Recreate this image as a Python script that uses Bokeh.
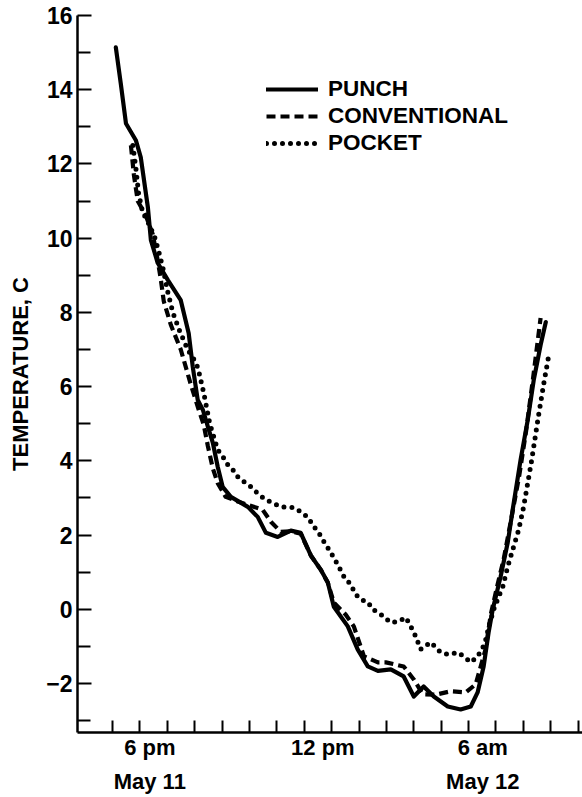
from bokeh.plotting import figure
from bokeh.models import FixedTicker, Legend, LegendItem, Range1d
from bokeh.embed import file_html
from bokeh.resources import INLINE

# time in hours after noon, May 11 (18 = 6 pm, 24 = midnight, 30 = 6 am May 12)
punch_h = [17.12, 17.30, 17.49, 17.85, 18.03, 18.29, 18.40, 18.65, 19.02, 19.49,
           19.78, 19.93, 20.11, 20.30, 20.48, 20.66, 20.84, 21.02, 21.32, 21.94,
           22.30, 22.60, 23.03, 23.51, 23.87, 24.24, 24.60, 24.86, 25.08, 25.59,
           25.95, 26.32, 26.69, 27.16, 27.63, 28.00, 28.36, 28.73, 29.24, 29.71,
           30.08, 30.33, 30.55, 30.73, 30.88, 31.17, 31.43, 31.61, 31.90, 32.16,
           32.38, 32.63, 32.82]
punch_t = [15.14, 14.17, 13.09, 12.64, 12.18, 10.83, 9.95, 9.33, 8.87, 8.33,
           7.44, 6.53, 5.64, 5.37, 4.92, 4.49, 3.84, 3.30, 3.03, 2.76,
           2.49, 2.06, 1.95, 2.12, 2.06, 1.45, 1.07, 0.72, 0.07, -0.46,
           -1.08, -1.54, -1.66, -1.62, -1.81, -2.35, -2.08, -2.35, -2.62, -2.70,
           -2.62, -2.24, -1.54, -0.63, -0.01, 0.88, 1.80, 2.68, 4.03, 5.10,
           6.18, 7.12, 7.74]

conv_h = [17.67, 17.78, 17.92, 18.22, 18.47, 18.65, 18.76, 18.87, 19.13, 19.49,
          19.86, 20.15, 20.33, 20.48, 20.66, 20.84, 21.13, 21.60, 22.00, 22.48,
          22.78, 23.14, 23.50, 23.87, 24.24, 24.60, 24.86, 25.08, 25.51, 25.81,
          26.18, 26.69, 26.98, 27.63, 28.00, 28.33, 28.80, 29.35, 29.90, 30.26,
          30.62, 30.81, 31.06, 31.28, 31.55, 31.85, 32.10, 32.35, 32.63]
conv_t = [12.5, 11.7, 11.0, 10.6, 10.1, 9.4, 8.9, 8.3, 7.66, 7.0,
          6.05, 5.37, 4.97, 4.4, 3.8, 3.4, 3.03, 2.9, 2.8, 2.68,
          2.36, 2.09, 2.1, 2.04, 1.45, 1.07, 0.72, 0.18, -0.14, -0.46,
          -1.27, -1.43, -1.43, -1.54, -1.89, -2.29, -2.3, -2.21, -2.24, -2.02,
          -1.08, -0.14, 0.67, 1.34, 2.4, 3.6, 4.8, 6.2, 7.85]

pocket_h = [17.74, 17.85, 17.95, 18.10, 18.35, 18.55, 18.70, 18.87, 19.00, 19.20,
            19.45, 19.75, 20.00, 20.12, 20.33, 20.55, 20.84, 21.03, 21.21, 21.39,
            21.57, 21.79, 22.05, 22.34, 22.60, 22.90, 23.14, 23.62, 23.87, 24.13,
            24.35, 24.53, 24.72, 24.90, 25.08, 25.26, 25.45, 25.69, 25.88, 26.06,
            26.32, 26.50, 26.80, 27.16, 27.45, 27.71, 27.89, 28.07, 28.25, 28.62,
            28.98, 29.28, 29.60, 29.82, 30.08, 30.33, 30.52, 30.63, 30.74, 30.92,
            31.10, 31.25, 31.43, 31.61, 31.83, 32.01, 32.30, 32.55, 32.75, 32.93]
pocket_t = [12.5, 11.9, 11.2, 10.7, 10.35, 10.0, 9.6, 9.1, 8.6, 8.0,
            7.5, 6.99, 6.7, 6.5, 5.83, 5.0, 4.3, 4.11, 3.89, 3.76,
            3.57, 3.44, 3.30, 3.09, 2.95, 2.85, 2.76, 2.74, 2.63, 2.48,
            2.23, 2.06, 1.82, 1.61, 1.39, 1.15, 0.88, 0.67, 0.40, 0.26,
            0.20, 0.0, -0.14, -0.36, -0.33, -0.22, -0.46, -0.73, -1.08, -0.89,
            -1.16, -1.22, -1.16, -1.27, -1.43, -1.27, -1.03, -0.81, -0.46, 0.0,
            0.34, 0.61, 1.15, 1.60, 2.14, 2.76, 4.0, 5.2, 6.1, 6.85]

x_label_pos = [18.36, 24.68, 30.52]
x_label_text = ["6 pm\nMay 11", "12 pm", "6 am\nMay 12"]
x_minor = list(range(17, 35))
y_major = list(range(-2, 17, 2))
y_minor = list(range(-3, 16, 2))
series_names = ["PUNCH", "CONVENTIONAL", "POCKET"]

FONT = "Liberation Sans"

p = figure(width=582, height=797, output_backend="svg", toolbar_location=None,
           x_range=Range1d(15.72, 34.16), y_range=Range1d(-3.32, 16),
           min_border_left=77, min_border_top=15, min_border_bottom=64,
           min_border_right=0)
p.outline_line_color = None
p.grid.grid_line_color = None
p.background_fill_color = "white"

r1 = p.line(punch_h, punch_t, line_color="black", line_width=4.2,
            line_join="round", line_cap="round")
r2 = p.line(conv_h, conv_t, line_color="black", line_width=4.2,
            line_dash="9 5", line_join="round")
r3 = p.line(pocket_h, pocket_t, line_color="black", line_width=5,
            line_dash="0 8", line_cap="round", line_join="round")

xa = p.xaxis[0]
xa.ticker = FixedTicker(ticks=x_label_pos, minor_ticks=x_minor)
xa.major_label_overrides = {v: t for v, t in zip(x_label_pos, x_label_text)}
xa.axis_line_width = 2.5
xa.axis_line_color = "black"
xa.major_tick_in = 0
xa.major_tick_out = 0
xa.minor_tick_in = 12
xa.minor_tick_out = 0
xa.minor_tick_line_width = 2
xa.minor_tick_line_color = "black"
xa.major_label_standoff = 2
xa.major_label_text_font = FONT
xa.major_label_text_font_style = "bold"
xa.major_label_text_font_size = "22px"
xa.major_label_text_color = "black"
xa.major_label_text_line_height = 1.38

ya = p.yaxis[0]
ya.ticker = FixedTicker(ticks=y_major, minor_ticks=y_minor)
ya.axis_line_width = 2.5
ya.axis_line_color = "black"
ya.major_tick_in = 14
ya.major_tick_out = 0
ya.major_tick_line_width = 2
ya.major_tick_line_color = "black"
ya.minor_tick_in = 13
ya.minor_tick_out = 0
ya.minor_tick_line_width = 2
ya.minor_tick_line_color = "black"
ya.major_label_standoff = 5
ya.major_label_text_font = FONT
ya.major_label_text_font_style = "bold"
ya.major_label_text_font_size = "23px"
ya.major_label_text_color = "black"
ya.axis_label = "TEMPERATURE, C"
ya.axis_label_text_font = FONT
ya.axis_label_text_font_style = "bold"
ya.axis_label_text_font_size = "22px"
ya.axis_label_text_color = "black"
ya.axis_label_standoff = 10

legend = Legend(items=[LegendItem(label=series_names[0], renderers=[r1]),
                       LegendItem(label=series_names[1], renderers=[r2]),
                       LegendItem(label=series_names[2], renderers=[r3])],
                location=(189, 576))
legend.background_fill_alpha = 0
legend.border_line_alpha = 0
legend.padding = 0
legend.margin = 0
legend.spacing = 1
legend.glyph_width = 52
legend.glyph_height = 24
legend.label_height = 24
legend.label_standoff = 10
legend.label_text_font = FONT
legend.label_text_font_style = "bold"
legend.label_text_font_size = "22.5px"
legend.label_text_color = "black"
p.add_layout(legend)

open("out.html", "w").write(file_html(p, INLINE))
